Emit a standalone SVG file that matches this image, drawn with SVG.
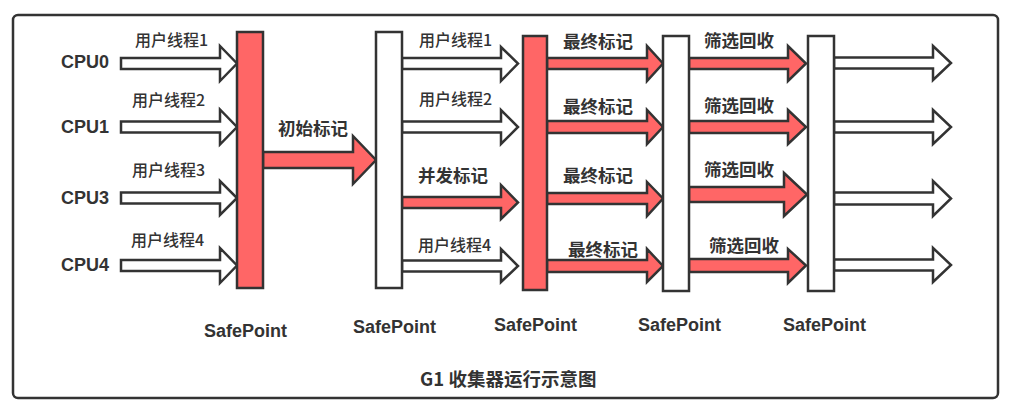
<svg xmlns="http://www.w3.org/2000/svg" width="1011" height="410" viewBox="0 0 1011 410">
<style>
.frame{fill:#fff;stroke:#333;stroke-width:2.5}
.bar-red{fill:#FF6666;stroke:#333;stroke-width:2.5}
.bar-white{fill:#fff;stroke:#333;stroke-width:2.5}
.arr-red{fill:#FF6666;stroke:#333;stroke-width:2.5;stroke-linejoin:miter}
.arr-white{fill:#fff;stroke:#333;stroke-width:2.5;stroke-linejoin:miter}
.cpu{font-family:"Liberation Sans","Noto Sans",sans-serif;font-weight:bold;font-size:18px;fill:#333}
.sp{font-family:"Liberation Sans","Noto Sans",sans-serif;font-weight:bold;font-size:18px;fill:#333}
.lbl{font-family:"Noto Sans CJK SC","Noto Sans",sans-serif;font-weight:500;font-size:16px;fill:#333}
.lblb{font-family:"Noto Sans CJK SC","Noto Sans",sans-serif;font-weight:bold;font-size:17.5px;fill:#333}
.title{font-family:"Noto Sans CJK SC","Noto Sans",sans-serif;font-weight:bold;font-size:18.5px;fill:#333}
</style>
<rect class="frame" x="13" y="15" width="985" height="383" rx="5"/>

<g id="connectors">
  <polygon class="arr-white" points="121,58 220,58 220,46 237,63.5 220,81 220,69 121,69"/>
  <polygon class="arr-white" points="121,121.5 220,121.5 220,109.5 237,127 220,144.5 220,132.5 121,132.5"/>
  <polygon class="arr-white" points="121,192.5 220,192.5 220,181 237,198 220,215 220,203.5 121,203.5"/>
  <polygon class="arr-white" points="121,260 220,260 220,248 237,265.5 220,283 220,271 121,271"/>
  <polygon class="arr-red" points="263,152 353,152 353,136 376,160 353,184 353,168 263,168"/>
  <polygon class="arr-white" points="402,58 501,58 501,47 518,63.5 501,81 501,69 402,69"/>
  <polygon class="arr-white" points="402,121.5 501,121.5 501,110 518,127 501,144 501,132.5 402,132.5"/>
  <polygon class="arr-red" points="402,197 501,197 501,185 518,202.5 501,219 501,208 402,208"/>
  <polygon class="arr-white" points="402,260.5 501,260.5 501,249 518,266 501,282 501,271.5 402,271.5"/>
  <polygon class="arr-red" points="547,58 647,58 647,46 663,63.5 647,81 647,69 547,69"/>
  <polygon class="arr-red" points="547,121 647,121 647,110 663,127 647,144 647,133 547,133"/>
  <polygon class="arr-red" points="547,193 647,193 647,182 663,198.5 647,216 647,204 547,204"/>
  <polygon class="arr-red" points="547,260 647,260 647,249 663,266 647,282 647,272 547,272"/>
  <polygon class="arr-red" points="689,58 788,58 788,46 806,63.5 788,81 788,69 689,69"/>
  <polygon class="arr-red" points="689,121 788,121 788,110 806,127 788,144 788,133 689,133"/>
  <polygon class="arr-red" points="689,187 784,187 784,173 807,194.5 784,216 784,202 689,202"/>
  <polygon class="arr-red" points="689,259 788,259 788,249 806,265.5 788,283 788,272 689,272"/>
  <polygon class="arr-white" points="834,57.5 933,57.5 933,46 951,63 933,80 933,68.5 834,68.5"/>
  <polygon class="arr-white" points="834,121.5 933,121.5 933,110 951,127 933,144 933,132.5 834,132.5"/>
  <polygon class="arr-white" points="834,192.5 933,192.5 933,181 951,198.5 933,216 933,204.5 834,204.5"/>
  <polygon class="arr-white" points="834,259.5 933,259.5 933,248 951,265 933,282 933,270.5 834,270.5"/>
</g>

<g id="sp1"><rect class="bar-red" x="237" y="32" width="26" height="256"/><text class="sp" x="204" y="337">SafePoint</text></g>
<g id="sp2"><rect class="bar-white" x="376" y="32" width="26" height="256"/><text class="sp" x="353" y="333">SafePoint</text></g>
<g id="sp3"><rect class="bar-red" x="523" y="36" width="24" height="254"/><text class="sp" x="494" y="331">SafePoint</text></g>
<g id="sp4"><rect class="bar-white" x="663" y="36" width="26" height="255"/><text class="sp" x="638" y="331">SafePoint</text></g>
<g id="sp5"><rect class="bar-white" x="808" y="36" width="26" height="255"/><text class="sp" x="783" y="331">SafePoint</text></g>

<g id="cpus">
  <text class="cpu" x="61" y="68">CPU0</text>
  <text class="cpu" x="61" y="133">CPU1</text>
  <text class="cpu" x="61" y="204">CPU3</text>
  <text class="cpu" x="61" y="271">CPU4</text>
</g>

<g id="labels">
  <text class="lbl" x="135" y="46">用户线程1</text>
  <text class="lbl" x="132" y="106">用户线程2</text>
  <text class="lbl" x="132" y="176">用户线程3</text>
  <text class="lbl" x="131" y="246">用户线程4</text>
  <text class="lblb" x="278" y="135">初始标记</text>
  <text class="lbl" x="419" y="46">用户线程1</text>
  <text class="lbl" x="419" y="105">用户线程2</text>
  <text class="lblb" x="418" y="182">并发标记</text>
  <text class="lbl" x="418" y="251">用户线程4</text>
  <text class="lblb" x="563" y="48">最终标记</text>
  <text class="lblb" x="563" y="113">最终标记</text>
  <text class="lblb" x="563" y="182">最终标记</text>
  <text class="lblb" x="568" y="256">最终标记</text>
  <text class="lblb" x="704" y="47">筛选回收</text>
  <text class="lblb" x="704" y="112">筛选回收</text>
  <text class="lblb" x="704" y="176">筛选回收</text>
  <text class="lblb" x="709" y="252">筛选回收</text>
</g>

<g id="title"><text class="title" x="420" y="386">G1 收集器运行示意图</text></g>
</svg>
